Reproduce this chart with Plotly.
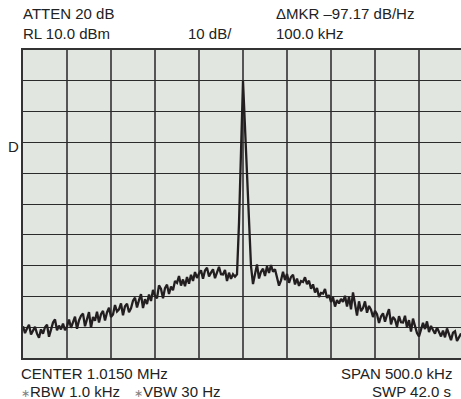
import plotly.graph_objects as go

# Instrument settings
center_mhz = 1.0150
span_khz = 500.0
ref_level = 10.0
db_per_div = 10.0

# Trace amplitudes (dBm), one per sweep point, left to right
level_dbm = [
    -79.7, -81.9, -80.4, -79.2, -82.4, -80.9, -79.9, -82.1, -83.4, -80.7,
    -82.1, -80.0, -79.2, -83.1, -80.5, -78.5, -77.5, -81.0, -79.5, -80.7,
    -78.8, -81.0, -79.8, -77.5, -80.2, -78.7, -76.6, -80.5, -77.8, -76.3,
    -75.6, -79.7, -77.2, -75.1, -80.2, -76.7, -77.9, -75.0, -78.5, -75.8,
    -74.7, -77.8, -75.2, -73.7, -76.7, -75.9, -72.8, -74.9, -74.2, -72.3,
    -76.1, -73.2, -72.4, -75.1, -73.9, -71.4, -70.4, -73.6, -71.2, -69.3,
    -73.8, -70.9, -72.5, -69.4, -71.5, -67.9, -69.8, -70.6, -66.4, -67.6,
    -70.6, -67.3, -66.2, -69.2, -66.8, -68.0, -65.0, -65.6, -63.4, -66.5,
    -64.5, -66.7, -63.7, -65.9, -63.0, -65.0, -62.1, -64.0, -62.6, -61.5,
    -64.3, -61.6, -60.7, -63.5, -62.3, -61.2, -64.1, -61.9, -60.4, -62.8,
    -62.9, -61.4, -65.0, -62.3, -64.3, -62.8, -63.6,
    -62.8, -46.2, -23.1, -0.1, -15.1, -30.1, -45.2, -60.2,
    -66.0, -63.0, -59.6, -64.2, -62.0,
    -61.0, -63.4, -60.2, -62.4, -59.8, -62.0, -61.2, -64.0, -66.5, -64.8,
    -62.0, -64.7, -62.7, -65.6, -63.7, -63.0, -66.1, -64.2, -66.6, -65.0,
    -65.3, -63.8, -66.0, -64.9, -67.5, -66.1, -68.7, -67.3, -70.2, -68.9,
    -69.1, -67.6, -70.5, -69.6, -71.8, -70.3, -73.3, -71.2, -72.3, -70.8,
    -71.8, -69.8, -73.3, -70.1, -74.2, -68.7, -73.1, -76.2, -71.6, -74.8,
    -73.8, -71.6, -75.3, -73.1, -74.3, -76.7, -74.7, -75.8, -78.6, -76.5,
    -75.5, -78.2, -76.0, -74.1, -79.1, -76.7, -77.5, -79.9, -76.4, -78.4,
    -78.5, -76.3, -80.1, -77.7, -81.4, -77.2, -79.6, -81.9, -83.0, -80.9,
    -78.6, -80.6, -78.1, -81.6, -79.6, -80.9, -82.1, -80.1, -81.4, -83.0,
    -81.1, -83.3, -80.4, -82.6, -84.2, -81.8, -81.3, -84.5, -83.1, -82.1, -83.6,
]

n = len(level_dbm)
offset_khz = [-span_khz / 2 + span_khz * i / (n - 1) for i in range(n)]

# pixel geometry (window coords)
W, H = 461, 399
L, T, Bedge = 23, 50, 358.5
MB = H - Bedge
PW = W - L
PH = Bedge - T
full_px = 440.0


def px(xp):
    return (xp - L) / PW


def py(yp):
    return (Bedge - yp) / PH


fig = go.Figure()
fig.add_trace(go.Scatter(
    x=offset_khz, y=level_dbm, mode="lines",
    line=dict(color="#231f20", width=2.3),
    hoverinfo="skip", showlegend=False,
))

xmax = -span_khz / 2 + span_khz * PW / full_px

fig.update_layout(
    width=W, height=H,
    margin=dict(l=L, r=0, t=T, b=MB, pad=0),
    paper_bgcolor="white",
    plot_bgcolor="#e2e6e0",
    showlegend=False,
    xaxis=dict(
        range=[-span_khz / 2, xmax], tick0=-span_khz / 2, dtick=span_khz / 10,
        showticklabels=False, ticks="", zeroline=False,
        showgrid=True, gridcolor="#555555", gridwidth=1.6,
        showline=True, linecolor="#333333", linewidth=2, mirror=True,
        fixedrange=True,
    ),
    yaxis=dict(
        range=[ref_level - 10 * db_per_div, ref_level], tick0=ref_level, dtick=db_per_div,
        showticklabels=False, ticks="", zeroline=False,
        showgrid=True, gridcolor="#2b2b2b", gridwidth=1.4,
        showline=True, linecolor="#333333", linewidth=2, mirror=False,
        fixedrange=True,
    ),
    font=dict(family="Liberation Sans, Arial, sans-serif", size=15, color="#222222"),
)

star = "<span style='color:#808080;font-size:11px'>∗</span>"
texts = [
    ("ATTEN 20 dB", 22, 13, "left"),
    ("RL 10.0 dBm", 22, 33, "left"),
    ("10 dB/", 187, 33, "left"),
    ("ΔMKR –97.17 dB/Hz", 275, 13, "left"),
    ("100.0 kHz", 275, 33, "left"),
    ("D", 7, 147, "left"),
    ("CENTER 1.0150 MHz", 20, 374, "left"),
    (star + "RBW 1.0 kHz", 20, 392, "left"),
    (star + "VBW 30 Hz", 133, 392, "left"),
    ("SPAN 500.0 kHz", 453, 374, "right"),
    ("SWP 42.0 s", 452, 392, "right"),
]
for t, xp, yp, anc in texts:
    fig.add_annotation(
        text=t, xref="paper", yref="paper", x=px(xp), y=py(yp),
        xanchor=anc, yanchor="middle", showarrow=False, borderpad=0,
    )

fig.write_html(
    "out.html",
    config={"displayModeBar": False},
    post_script="document.body.style.margin='0';document.body.style.overflow='hidden';",
)
